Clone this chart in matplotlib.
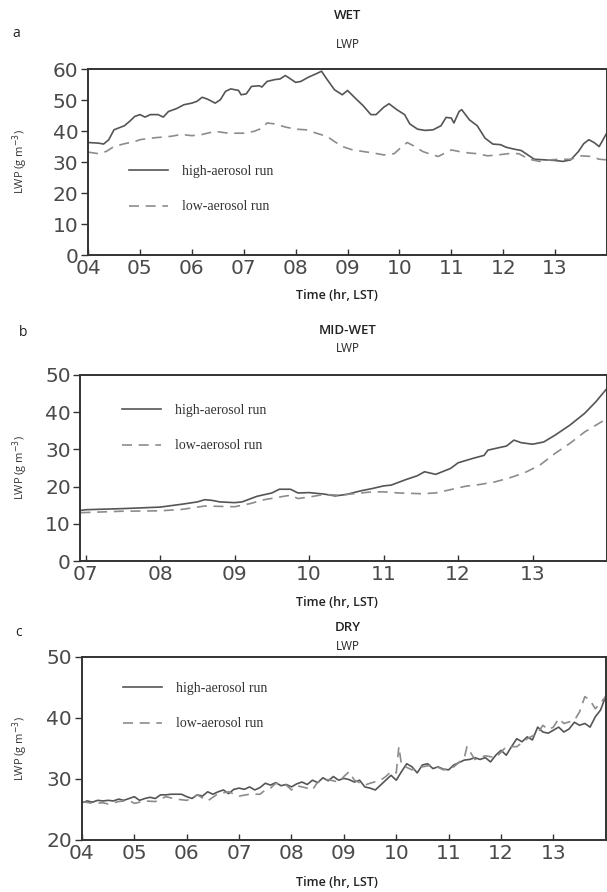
import matplotlib.pyplot as plt

# ---- WET case ----
wet_t_high = [4.0, 4.2, 4.3, 4.4, 4.5, 4.7, 4.8, 4.9, 5.0, 5.1, 5.2, 5.35, 5.45, 5.55, 5.7,
              5.85, 6.0, 6.1, 6.2, 6.3, 6.45, 6.55, 6.65, 6.75, 6.9, 6.95, 7.05, 7.15, 7.3,
              7.35, 7.45, 7.6, 7.7, 7.8, 7.85, 8.0, 8.1, 8.25, 8.4, 8.5, 8.6, 8.75, 8.9, 9.0,
              9.15, 9.3, 9.45, 9.55, 9.7, 9.8, 9.95, 10.1, 10.2, 10.35, 10.5, 10.65, 10.8,
              10.9, 11.0, 11.05, 11.15, 11.2, 11.35, 11.5, 11.65, 11.8, 11.95, 12.05, 12.2,
              12.35, 12.5, 12.6, 12.8, 13.0, 13.15, 13.3, 13.45, 13.55, 13.65, 13.75, 13.85, 14.0]
wet_high = [36.3, 36.1, 35.8, 37.2, 40.4, 41.7, 43.1, 44.7, 45.3, 44.5, 45.3, 45.3, 44.5, 46.3,
            47.2, 48.5, 49.0, 49.6, 50.9, 50.3, 49.0, 50.1, 52.8, 53.6, 53.1, 51.7, 52.0, 54.4,
            54.6, 54.2, 56.0, 56.6, 56.8, 57.9, 57.4, 55.7, 56.0, 57.4, 58.5, 59.3, 56.8, 53.3,
            51.7, 53.1, 50.6, 48.2, 45.3, 45.3, 47.7, 48.8, 46.9, 45.3, 42.3, 40.6, 40.2, 40.4,
            41.7, 44.4, 44.2, 42.6, 46.3, 46.9, 43.6, 41.7, 37.7, 35.8, 35.6, 34.8, 34.2, 33.7,
            32.0, 30.9, 30.7, 30.5, 30.2, 30.7, 33.4, 35.9, 37.2, 36.3, 35.0, 39.5]
wet_t_low = [4.0, 4.2, 4.35, 4.5, 4.7, 4.9, 5.0, 5.2, 5.4, 5.6, 5.8, 6.0, 6.2, 6.45, 6.7, 7.0,
             7.2, 7.35, 7.45, 7.6, 7.8, 8.0, 8.2, 8.4, 8.6, 8.75, 8.9, 9.1, 9.3, 9.5, 9.7, 9.9,
             10.05, 10.15, 10.3, 10.45, 10.6, 10.75, 10.9, 11.0, 11.15, 11.35, 11.5, 11.7, 11.9,
             12.1, 12.3, 12.5, 12.7, 12.9, 13.1, 13.3, 13.5, 13.7, 13.85, 14.0]
wet_low = [33.2, 32.7, 33.4, 35.0, 35.9, 36.6, 37.2, 37.7, 38.0, 38.3, 38.9, 38.5, 38.9, 39.9,
           39.3, 39.3, 39.9, 40.9, 42.6, 42.3, 41.3, 40.6, 40.4, 39.3, 38.3, 36.6, 35.0, 33.9,
           33.4, 32.9, 32.3, 32.7, 35.0, 36.3, 35.0, 33.4, 32.5, 31.8, 33.1, 33.9, 33.4, 32.9,
           32.7, 32.0, 32.3, 32.7, 32.7, 30.9, 30.2, 30.7, 30.9, 30.9, 32.0, 31.8, 30.9, 30.7]

# ---- MID-WET case ----
mid_t_high = [6.93, 7.0, 7.5, 8.0, 8.3, 8.5, 8.6, 8.7, 8.8, 9.0, 9.1, 9.3, 9.5, 9.6, 9.75, 9.85,
              10.0, 10.2, 10.35, 10.5, 10.7, 10.85, 11.0, 11.1, 11.3, 11.45, 11.55, 11.7, 11.9,
              12.0, 12.2, 12.35, 12.4, 12.6, 12.65, 12.75, 12.85, 13.0, 13.15, 13.3, 13.5, 13.7,
              13.85, 14.0]
mid_high = [13.6, 13.8, 14.1, 14.5, 15.3, 15.9, 16.5, 16.3, 15.9, 15.7, 15.9, 17.4, 18.3, 19.3,
            19.3, 18.3, 18.4, 18.0, 17.5, 17.9, 18.9, 19.5, 20.2, 20.4, 21.9, 22.9, 24.0, 23.3,
            24.9, 26.4, 27.6, 28.4, 29.8, 30.7, 30.9, 32.5, 31.8, 31.4, 32.0, 33.8, 36.5, 39.7,
            42.8, 46.4]
mid_t_low = [6.93, 7.5, 8.0, 8.3, 8.6, 9.0, 9.2, 9.4, 9.6, 9.75, 9.85, 10.0, 10.2, 10.4, 10.6,
             10.85, 11.0, 11.2, 11.5, 11.7, 11.9, 12.1, 12.3, 12.5, 12.7, 12.9, 13.1, 13.3, 13.5,
             13.7, 14.0]
mid_low = [13.0, 13.4, 13.5, 13.9, 14.8, 14.6, 15.4, 16.5, 17.2, 17.7, 16.8, 17.2, 17.9, 17.7,
           18.1, 18.6, 18.6, 18.3, 18.1, 18.3, 19.2, 20.1, 20.6, 21.3, 22.4, 23.8, 25.8, 28.9,
           31.6, 34.7, 38.3]

# ---- DRY case ----
dry_t_high = [4.0 + 0.1 * i for i in range(101)]
dry_high = [26.1, 26.4, 26.2, 26.5, 26.4, 26.5, 26.4, 26.7, 26.5, 26.8,
            27.1, 26.5, 26.8, 27.0, 26.8, 27.4, 27.4, 27.5, 27.5, 27.5,
            27.1, 26.8, 27.4, 27.2, 27.9, 27.5, 27.9, 28.2, 27.6, 28.3,
            28.5, 28.3, 28.7, 28.2, 28.6, 29.3, 29.0, 29.4, 28.9, 29.1,
            28.7, 29.2, 29.5, 29.1, 29.8, 29.4, 30.2, 29.7, 30.4, 29.8,
            30.1, 29.9, 29.5, 29.8, 28.7, 28.5, 28.2, 29.0, 29.8, 30.6,
            29.8, 31.2, 32.5, 32.0, 31.0, 32.3, 32.5, 31.7, 32.0, 31.6,
            31.5, 32.3, 32.7, 33.1, 33.2, 33.5, 33.2, 33.5, 32.8, 33.9,
            34.7, 33.9, 35.3, 36.6, 36.1, 36.9, 36.4, 38.5, 37.7, 37.5,
            38.0, 38.5, 37.7, 38.2, 39.3, 38.8, 39.1, 38.5, 40.2, 41.3,
            43.6]
dry_t_low = [4.0, 4.2, 4.4, 4.5, 4.7, 4.9, 5.0, 5.2, 5.4, 5.6, 5.8, 6.0, 6.1, 6.2, 6.4, 6.6,
             6.8, 7.0, 7.2, 7.4, 7.5, 7.6, 7.7, 7.9, 8.0, 8.1, 8.3, 8.4, 8.5, 8.7, 8.9, 9.0,
             9.1, 9.2, 9.4, 9.5, 9.7, 9.8, 9.9, 10.0, 10.05, 10.1, 10.3, 10.5, 10.7, 10.9, 11.1,
             11.3, 11.35, 11.5, 11.7, 11.9, 12.1, 12.3, 12.5, 12.7, 12.8, 12.9, 13.0, 13.1,
             13.2, 13.4, 13.5, 13.6, 13.7, 13.8, 14.0]
dry_low = [26.3, 26.0, 26.1, 25.9, 26.3, 26.5, 26.0, 26.4, 26.3, 27.1, 26.7, 26.5, 26.8, 27.4,
           26.4, 27.6, 27.9, 27.2, 27.5, 27.5, 28.2, 28.5, 29.3, 29.0, 28.2, 28.9, 28.5, 28.2,
           29.5, 29.9, 29.5, 30.4, 31.2, 29.8, 29.0, 29.3, 29.8, 30.4, 31.2, 31.0, 35.3, 32.3,
           31.5, 32.0, 32.3, 31.5, 32.0, 33.5, 35.3, 33.2, 33.8, 33.5, 35.3, 35.3, 36.6, 37.5,
           38.8, 38.1, 38.5, 39.9, 39.1, 39.6, 41.0, 43.5, 42.9, 41.5, 43.5]

panels = [
    dict(letter="a", case="WET", t_hi=wet_t_high, hi=wet_high, t_lo=wet_t_low, lo=wet_low,
         xlim=(4, 14), xticks=range(4, 14), ylim=(0, 60), yticks=range(0, 61, 10),
         rect=[0.145, 0.7141, 0.855, 0.2085], title_y=(0.983, 0.950), xlab_y=0.669,
         letter_xy=(0.026, 0.963), leg_y=0.55),
    dict(letter="b", case="MID-WET", t_hi=mid_t_high, hi=mid_high, t_lo=mid_t_low, lo=mid_low,
         xlim=(6.93, 14), xticks=range(7, 14), ylim=(0, 50), yticks=range(0, 51, 10),
         rect=[0.1326, 0.371, 0.8674, 0.2086], title_y=(0.630, 0.609), xlab_y=0.325,
         letter_xy=(0.038, 0.627), leg_y=0.91),
    dict(letter="c", case="DRY", t_hi=dry_t_high, hi=dry_high, t_lo=dry_t_low, lo=dry_low,
         xlim=(4, 14), xticks=range(4, 14), ylim=(20, 50), yticks=range(20, 51, 10),
         rect=[0.135, 0.0583, 0.863, 0.2052], title_y=(0.297, 0.275), xlab_y=0.011,
         letter_xy=(0.031, 0.291), leg_y=0.93),
]

fig = plt.figure(figsize=(6.07, 8.92), dpi=100)
sans = "Open Sans"

for p in panels:
    ax = fig.add_axes(p["rect"])
    ax.plot(p["t_hi"], p["hi"], color="#555555", lw=1.2, label="high-aerosol run")
    ax.plot(p["t_lo"], p["lo"], color="#8c8c8c", lw=1.2, ls=(0, (6, 4)), label="low-aerosol run")
    ax.set_xlim(*p["xlim"])
    ax.set_ylim(*p["ylim"])
    ax.set_xticks(list(p["xticks"]))
    ax.set_xticklabels([f"{h:02d}" for h in p["xticks"]])
    ax.set_yticks(list(p["yticks"]))
    ax.tick_params(axis="x", direction="in", length=4, width=1, pad=3,
                   labelsize=14.5, labelcolor="#4a4a4a", color="#333333")
    ax.tick_params(axis="y", direction="out", length=5, width=1, pad=2,
                   labelsize=14.5, labelcolor="#4a4a4a", color="#333333")
    for s in ax.spines.values():
        s.set_color("#333333")
        s.set_linewidth(1.4)

    leg = ax.legend(loc="upper left", bbox_to_anchor=(0.055, p["leg_y"]), frameon=False,
                    handlelength=2.8, handletextpad=1.0, labelspacing=1.6,
                    prop=dict(family="Liberation Serif", size=10))
    for txt in leg.get_texts():
        txt.set_color("#333333")

    # axis labels and panel headings placed in figure coordinates
    x0, y0, w, h = p["rect"]
    fig.text(0.033, y0 + h / 2, "LWP (g m$^{-3}$)", rotation=90, ha="center", va="center",
             family=sans, fontsize=8, color="#333333")
    fig.text(0.573, p["title_y"][0], p["case"], ha="center", va="center",
             family=sans, fontsize=9.5, fontweight="semibold", color="#222222")
    fig.text(0.573, p["title_y"][1], "LWP", ha="center", va="center",
             family=sans, fontsize=8.5, color="#222222")
    fig.text(0.555, p["xlab_y"], "Time (hr, LST)", ha="center", va="center",
             family=sans, fontsize=9, fontweight="semibold", color="#222222")
    fig.text(*p["letter_xy"], p["letter"], ha="center", va="center",
             family=sans, fontsize=10, color="#222222")

plt.savefig("out.png", dpi=100)
